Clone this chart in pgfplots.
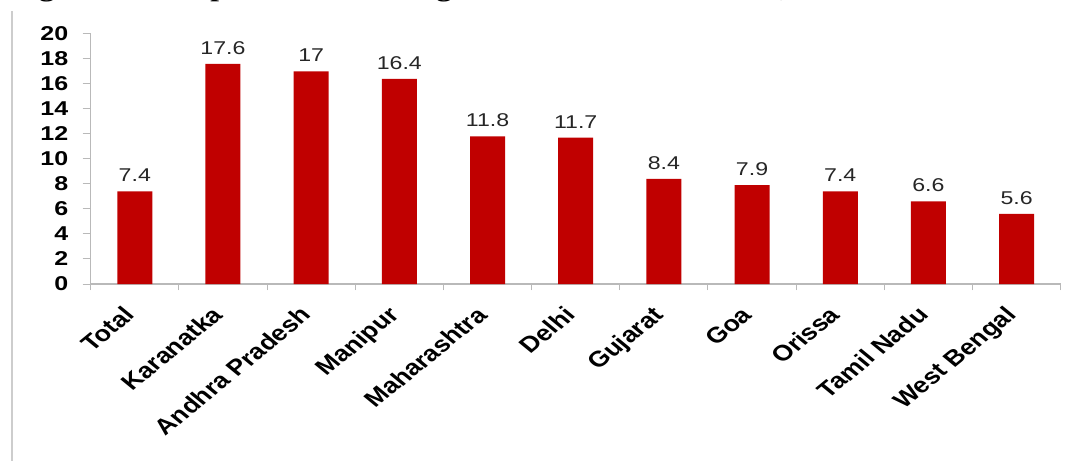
\documentclass[border=0pt]{standalone}
\usepackage{fontspec}
\setmainfont{Liberation Sans}
\newfontfamily\titlefont{Liberation Serif}
\usepackage{pgfplots}
\pgfplotsset{compat=1.18}
\definecolor{barred}{RGB}{192,0,0}
\definecolor{axisgray}{RGB}{185,185,185}
\definecolor{framegray}{RGB}{205,205,205}

\begin{document}
\begin{tikzpicture}
\fill[white] (0,0) rectangle (1072bp,461bp);
\draw[framegray, line width=2bp] (12bp,0) -- (12bp,450bp);
\begin{scope}
\clip (0,0) rectangle (1072bp,461bp);
\node[anchor=base west, inner sep=0, xscale=1.25] at (11bp,464bp)
  {\titlefont\fontsize{25bp}{27bp}\selectfont\bfseries Figure 7: HIV prevalence among
   \fontsize{27.5bp}{29bp}\selectfont\mdseries MSM in selected states, 2007-2008};
\end{scope}
\begin{axis}[
  at={(90.7bp,177bp)}, anchor=south west,
  scale only axis, width=970bp, height=250bp,
  xmin=-0.5, xmax=10.5, ymin=0, ymax=20,
  ybar, bar width=35bp,
  clip=false,
  axis x line*=bottom, axis y line*=left,
  axis line style={draw=axisgray, line width=1.3bp, -},
  tick align=outside,
  ytick={0,2,...,20},
  xtick={0,...,10},
  xticklabels={Total,Karanatka,Andhra Pradesh,Manipur,Maharashtra,Delhi,Gujarat,Goa,Orissa,Tamil Nadu,West Bengal},
  minor xtick={-0.5,0.5,...,10.5},
  major x tick style={draw=none},
  minor x tick style={draw=axisgray, line width=1bp},
  minor tick length=6bp,
  y tick style={draw=axisgray, line width=1bp},
  major tick length=8bp,
  /pgf/number format/assume math mode=true,
  yticklabel style={font=\fontsize{20bp}{22bp}\selectfont\bfseries, anchor=east,
    xshift=-10bp, xscale=1.25},
  xticklabel style={font=\fontsize{22bp}{24bp}\selectfont\bfseries,
    anchor=north east, inner sep=0pt, text height=0.72em, text depth=0.21em,
    xshift=-5bp, yshift=-19bp, xscale=1.22, rotate=45},
  nodes near coords,
  every node near coord/.append style={font=\fontsize{18.5bp}{20bp}\selectfont,
    text=black!85, yshift=6bp, xscale=1.25},
]
\addplot[fill=barred, draw=none] coordinates {
  (0,7.4) (1,17.6) (2,17) (3,16.4) (4,11.8) (5,11.7)
  (6,8.4) (7,7.9) (8,7.4) (9,6.6) (10,5.6)
};
\end{axis}
\pgfresetboundingbox
\useasboundingbox (0,0) rectangle (1072bp,461bp);
\end{tikzpicture}
\end{document}
